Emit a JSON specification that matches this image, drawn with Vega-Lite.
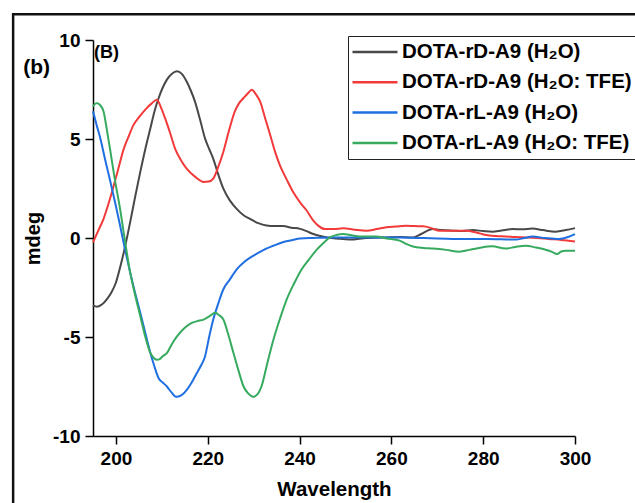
{
  "$schema": "https://vega.github.io/schema/vega-lite/v6.json",
  "width": 482,
  "height": 396,
  "autosize": {"type": "none"},
  "padding": {"left": 93, "top": 40, "right": 60, "bottom": 67},
  "background": "white",
  "config": {"view": {"stroke": null}, "font": "Liberation Sans"},
  "layer": [
    {
      "data": {"values": [
        {"series":"DOTA-rD-A9 (H₂O)","wavelength":195,"mdeg":-3.4},{"series":"DOTA-rD-A9 (H₂O)","wavelength":195.9,"mdeg":-3.47},{"series":"DOTA-rD-A9 (H₂O)","wavelength":197,"mdeg":-3.35},{"series":"DOTA-rD-A9 (H₂O)","wavelength":198,"mdeg":-3.1},{"series":"DOTA-rD-A9 (H₂O)","wavelength":199,"mdeg":-2.75},{"series":"DOTA-rD-A9 (H₂O)","wavelength":200,"mdeg":-2.25},{"series":"DOTA-rD-A9 (H₂O)","wavelength":201,"mdeg":-1.4},{"series":"DOTA-rD-A9 (H₂O)","wavelength":201.7,"mdeg":-0.73},{"series":"DOTA-rD-A9 (H₂O)","wavelength":203.1,"mdeg":0.8},{"series":"DOTA-rD-A9 (H₂O)","wavelength":204.2,"mdeg":2.1},{"series":"DOTA-rD-A9 (H₂O)","wavelength":205.3,"mdeg":3.34},{"series":"DOTA-rD-A9 (H₂O)","wavelength":206.4,"mdeg":4.5},{"series":"DOTA-rD-A9 (H₂O)","wavelength":207.5,"mdeg":5.54},{"series":"DOTA-rD-A9 (H₂O)","wavelength":208.4,"mdeg":6.4},{"series":"DOTA-rD-A9 (H₂O)","wavelength":209.3,"mdeg":7.07},{"series":"DOTA-rD-A9 (H₂O)","wavelength":210.2,"mdeg":7.6},{"series":"DOTA-rD-A9 (H₂O)","wavelength":211.1,"mdeg":8.0},{"series":"DOTA-rD-A9 (H₂O)","wavelength":212.2,"mdeg":8.3},{"series":"DOTA-rD-A9 (H₂O)","wavelength":213.3,"mdeg":8.42},{"series":"DOTA-rD-A9 (H₂O)","wavelength":214.3,"mdeg":8.3},{"series":"DOTA-rD-A9 (H₂O)","wavelength":215.4,"mdeg":7.9},{"series":"DOTA-rD-A9 (H₂O)","wavelength":216.3,"mdeg":7.45},{"series":"DOTA-rD-A9 (H₂O)","wavelength":217.2,"mdeg":6.9},{"series":"DOTA-rD-A9 (H₂O)","wavelength":218.3,"mdeg":6.0},{"series":"DOTA-rD-A9 (H₂O)","wavelength":219.4,"mdeg":5.03},{"series":"DOTA-rD-A9 (H₂O)","wavelength":220.3,"mdeg":4.5},{"series":"DOTA-rD-A9 (H₂O)","wavelength":221.2,"mdeg":4.0},{"series":"DOTA-rD-A9 (H₂O)","wavelength":222.3,"mdeg":3.2},{"series":"DOTA-rD-A9 (H₂O)","wavelength":223.4,"mdeg":2.49},{"series":"DOTA-rD-A9 (H₂O)","wavelength":224.8,"mdeg":1.9},{"series":"DOTA-rD-A9 (H₂O)","wavelength":226.3,"mdeg":1.47},{"series":"DOTA-rD-A9 (H₂O)","wavelength":227.8,"mdeg":1.15},{"series":"DOTA-rD-A9 (H₂O)","wavelength":229.2,"mdeg":0.97},{"series":"DOTA-rD-A9 (H₂O)","wavelength":231,"mdeg":0.75},{"series":"DOTA-rD-A9 (H₂O)","wavelength":232.8,"mdeg":0.63},{"series":"DOTA-rD-A9 (H₂O)","wavelength":234.6,"mdeg":0.6},{"series":"DOTA-rD-A9 (H₂O)","wavelength":236.4,"mdeg":0.6},{"series":"DOTA-rD-A9 (H₂O)","wavelength":238.2,"mdeg":0.52},{"series":"DOTA-rD-A9 (H₂O)","wavelength":240.1,"mdeg":0.46},{"series":"DOTA-rD-A9 (H₂O)","wavelength":241.5,"mdeg":0.35},{"series":"DOTA-rD-A9 (H₂O)","wavelength":243,"mdeg":0.2},{"series":"DOTA-rD-A9 (H₂O)","wavelength":244.5,"mdeg":0.1},{"series":"DOTA-rD-A9 (H₂O)","wavelength":246,"mdeg":0.03},{"series":"DOTA-rD-A9 (H₂O)","wavelength":248,"mdeg":-0.02},{"series":"DOTA-rD-A9 (H₂O)","wavelength":250.9,"mdeg":-0.08},{"series":"DOTA-rD-A9 (H₂O)","wavelength":254.6,"mdeg":0},{"series":"DOTA-rD-A9 (H₂O)","wavelength":258.9,"mdeg":0.03},{"series":"DOTA-rD-A9 (H₂O)","wavelength":262,"mdeg":0.05},{"series":"DOTA-rD-A9 (H₂O)","wavelength":264.7,"mdeg":0.03},{"series":"DOTA-rD-A9 (H₂O)","wavelength":266.5,"mdeg":0.2},{"series":"DOTA-rD-A9 (H₂O)","wavelength":269,"mdeg":0.45},{"series":"DOTA-rD-A9 (H₂O)","wavelength":271,"mdeg":0.4},{"series":"DOTA-rD-A9 (H₂O)","wavelength":273.4,"mdeg":0.37},{"series":"DOTA-rD-A9 (H₂O)","wavelength":275.5,"mdeg":0.35},{"series":"DOTA-rD-A9 (H₂O)","wavelength":277.7,"mdeg":0.4},{"series":"DOTA-rD-A9 (H₂O)","wavelength":280,"mdeg":0.35},{"series":"DOTA-rD-A9 (H₂O)","wavelength":282,"mdeg":0.32},{"series":"DOTA-rD-A9 (H₂O)","wavelength":284,"mdeg":0.38},{"series":"DOTA-rD-A9 (H₂O)","wavelength":286.4,"mdeg":0.45},{"series":"DOTA-rD-A9 (H₂O)","wavelength":288.5,"mdeg":0.44},{"series":"DOTA-rD-A9 (H₂O)","wavelength":290.7,"mdeg":0.48},{"series":"DOTA-rD-A9 (H₂O)","wavelength":293,"mdeg":0.4},{"series":"DOTA-rD-A9 (H₂O)","wavelength":295.8,"mdeg":0.32},{"series":"DOTA-rD-A9 (H₂O)","wavelength":298,"mdeg":0.4},{"series":"DOTA-rD-A9 (H₂O)","wavelength":300,"mdeg":0.5},

        {"series":"DOTA-rD-A9 (H₂O: TFE)","wavelength":195,"mdeg":-0.22},{"series":"DOTA-rD-A9 (H₂O: TFE)","wavelength":196.2,"mdeg":0.4},{"series":"DOTA-rD-A9 (H₂O: TFE)","wavelength":197.3,"mdeg":0.97},{"series":"DOTA-rD-A9 (H₂O: TFE)","wavelength":198.2,"mdeg":1.6},{"series":"DOTA-rD-A9 (H₂O: TFE)","wavelength":199.1,"mdeg":2.3},{"series":"DOTA-rD-A9 (H₂O: TFE)","wavelength":200.4,"mdeg":3.4},{"series":"DOTA-rD-A9 (H₂O: TFE)","wavelength":201.7,"mdeg":4.5},{"series":"DOTA-rD-A9 (H₂O: TFE)","wavelength":202.8,"mdeg":5.15},{"series":"DOTA-rD-A9 (H₂O: TFE)","wavelength":203.8,"mdeg":5.7},{"series":"DOTA-rD-A9 (H₂O: TFE)","wavelength":205.2,"mdeg":6.15},{"series":"DOTA-rD-A9 (H₂O: TFE)","wavelength":206.7,"mdeg":6.56},{"series":"DOTA-rD-A9 (H₂O: TFE)","wavelength":207.8,"mdeg":6.8},{"series":"DOTA-rD-A9 (H₂O: TFE)","wavelength":208.9,"mdeg":6.98},{"series":"DOTA-rD-A9 (H₂O: TFE)","wavelength":209.8,"mdeg":6.6},{"series":"DOTA-rD-A9 (H₂O: TFE)","wavelength":210.7,"mdeg":6.05},{"series":"DOTA-rD-A9 (H₂O: TFE)","wavelength":211.8,"mdeg":5.3},{"series":"DOTA-rD-A9 (H₂O: TFE)","wavelength":212.9,"mdeg":4.5},{"series":"DOTA-rD-A9 (H₂O: TFE)","wavelength":214.1,"mdeg":3.95},{"series":"DOTA-rD-A9 (H₂O: TFE)","wavelength":215.4,"mdeg":3.5},{"series":"DOTA-rD-A9 (H₂O: TFE)","wavelength":217.2,"mdeg":3.1},{"series":"DOTA-rD-A9 (H₂O: TFE)","wavelength":219.1,"mdeg":2.83},{"series":"DOTA-rD-A9 (H₂O: TFE)","wavelength":220.2,"mdeg":2.85},{"series":"DOTA-rD-A9 (H₂O: TFE)","wavelength":221.2,"mdeg":3.0},{"series":"DOTA-rD-A9 (H₂O: TFE)","wavelength":222.3,"mdeg":3.6},{"series":"DOTA-rD-A9 (H₂O: TFE)","wavelength":223.4,"mdeg":4.36},{"series":"DOTA-rD-A9 (H₂O: TFE)","wavelength":224.6,"mdeg":5.4},{"series":"DOTA-rD-A9 (H₂O: TFE)","wavelength":225.9,"mdeg":6.39},{"series":"DOTA-rD-A9 (H₂O: TFE)","wavelength":226.8,"mdeg":6.8},{"series":"DOTA-rD-A9 (H₂O: TFE)","wavelength":227.8,"mdeg":7.07},{"series":"DOTA-rD-A9 (H₂O: TFE)","wavelength":228.7,"mdeg":7.3},{"series":"DOTA-rD-A9 (H₂O: TFE)","wavelength":229.6,"mdeg":7.49},{"series":"DOTA-rD-A9 (H₂O: TFE)","wavelength":230.5,"mdeg":7.25},{"series":"DOTA-rD-A9 (H₂O: TFE)","wavelength":231.4,"mdeg":6.9},{"series":"DOTA-rD-A9 (H₂O: TFE)","wavelength":232.5,"mdeg":6.05},{"series":"DOTA-rD-A9 (H₂O: TFE)","wavelength":233.6,"mdeg":5.2},{"series":"DOTA-rD-A9 (H₂O: TFE)","wavelength":234.6,"mdeg":4.4},{"series":"DOTA-rD-A9 (H₂O: TFE)","wavelength":235.7,"mdeg":3.68},{"series":"DOTA-rD-A9 (H₂O: TFE)","wavelength":237.2,"mdeg":2.95},{"series":"DOTA-rD-A9 (H₂O: TFE)","wavelength":238.6,"mdeg":2.32},{"series":"DOTA-rD-A9 (H₂O: TFE)","wavelength":240.1,"mdeg":1.8},{"series":"DOTA-rD-A9 (H₂O: TFE)","wavelength":241.5,"mdeg":1.4},{"series":"DOTA-rD-A9 (H₂O: TFE)","wavelength":243,"mdeg":0.88},{"series":"DOTA-rD-A9 (H₂O: TFE)","wavelength":244.2,"mdeg":0.6},{"series":"DOTA-rD-A9 (H₂O: TFE)","wavelength":245.5,"mdeg":0.45},{"series":"DOTA-rD-A9 (H₂O: TFE)","wavelength":247.5,"mdeg":0.45},{"series":"DOTA-rD-A9 (H₂O: TFE)","wavelength":249.5,"mdeg":0.49},{"series":"DOTA-rD-A9 (H₂O: TFE)","wavelength":252,"mdeg":0.42},{"series":"DOTA-rD-A9 (H₂O: TFE)","wavelength":254.6,"mdeg":0.37},{"series":"DOTA-rD-A9 (H₂O: TFE)","wavelength":256.8,"mdeg":0.45},{"series":"DOTA-rD-A9 (H₂O: TFE)","wavelength":258.9,"mdeg":0.54},{"series":"DOTA-rD-A9 (H₂O: TFE)","wavelength":261,"mdeg":0.58},{"series":"DOTA-rD-A9 (H₂O: TFE)","wavelength":263.2,"mdeg":0.62},{"series":"DOTA-rD-A9 (H₂O: TFE)","wavelength":265,"mdeg":0.6},{"series":"DOTA-rD-A9 (H₂O: TFE)","wavelength":266.9,"mdeg":0.59},{"series":"DOTA-rD-A9 (H₂O: TFE)","wavelength":268.7,"mdeg":0.5},{"series":"DOTA-rD-A9 (H₂O: TFE)","wavelength":270.5,"mdeg":0.37},{"series":"DOTA-rD-A9 (H₂O: TFE)","wavelength":273.4,"mdeg":0.37},{"series":"DOTA-rD-A9 (H₂O: TFE)","wavelength":276.3,"mdeg":0.37},{"series":"DOTA-rD-A9 (H₂O: TFE)","wavelength":278.5,"mdeg":0.28},{"series":"DOTA-rD-A9 (H₂O: TFE)","wavelength":280.6,"mdeg":0.15},{"series":"DOTA-rD-A9 (H₂O: TFE)","wavelength":282.8,"mdeg":0.1},{"series":"DOTA-rD-A9 (H₂O: TFE)","wavelength":284.9,"mdeg":0.08},{"series":"DOTA-rD-A9 (H₂O: TFE)","wavelength":287,"mdeg":0.05},{"series":"DOTA-rD-A9 (H₂O: TFE)","wavelength":289.3,"mdeg":0.03},{"series":"DOTA-rD-A9 (H₂O: TFE)","wavelength":291.8,"mdeg":0.0},{"series":"DOTA-rD-A9 (H₂O: TFE)","wavelength":294.3,"mdeg":-0.05},{"series":"DOTA-rD-A9 (H₂O: TFE)","wavelength":297,"mdeg":-0.1},{"series":"DOTA-rD-A9 (H₂O: TFE)","wavelength":300,"mdeg":-0.18},

        {"series":"DOTA-rL-A9 (H₂O)","wavelength":195,"mdeg":6.4},{"series":"DOTA-rL-A9 (H₂O)","wavelength":195.8,"mdeg":5.7},{"series":"DOTA-rL-A9 (H₂O)","wavelength":196.6,"mdeg":5.03},{"series":"DOTA-rL-A9 (H₂O)","wavelength":197.7,"mdeg":3.9},{"series":"DOTA-rL-A9 (H₂O)","wavelength":198.8,"mdeg":2.83},{"series":"DOTA-rL-A9 (H₂O)","wavelength":199.9,"mdeg":1.7},{"series":"DOTA-rL-A9 (H₂O)","wavelength":200.9,"mdeg":0.63},{"series":"DOTA-rL-A9 (H₂O)","wavelength":202,"mdeg":-0.6},{"series":"DOTA-rL-A9 (H₂O)","wavelength":203.1,"mdeg":-1.75},{"series":"DOTA-rL-A9 (H₂O)","wavelength":204.2,"mdeg":-2.8},{"series":"DOTA-rL-A9 (H₂O)","wavelength":205.3,"mdeg":-3.78},{"series":"DOTA-rL-A9 (H₂O)","wavelength":206.4,"mdeg":-4.8},{"series":"DOTA-rL-A9 (H₂O)","wavelength":207.5,"mdeg":-5.81},{"series":"DOTA-rL-A9 (H₂O)","wavelength":208.4,"mdeg":-6.5},{"series":"DOTA-rL-A9 (H₂O)","wavelength":209.3,"mdeg":-7.08},{"series":"DOTA-rL-A9 (H₂O)","wavelength":210.2,"mdeg":-7.3},{"series":"DOTA-rL-A9 (H₂O)","wavelength":211.1,"mdeg":-7.5},{"series":"DOTA-rL-A9 (H₂O)","wavelength":212.1,"mdeg":-7.8},{"series":"DOTA-rL-A9 (H₂O)","wavelength":213.1,"mdeg":-8.02},{"series":"DOTA-rL-A9 (H₂O)","wavelength":214.2,"mdeg":-7.95},{"series":"DOTA-rL-A9 (H₂O)","wavelength":215.4,"mdeg":-7.68},{"series":"DOTA-rL-A9 (H₂O)","wavelength":216.5,"mdeg":-7.3},{"series":"DOTA-rL-A9 (H₂O)","wavelength":217.6,"mdeg":-6.83},{"series":"DOTA-rL-A9 (H₂O)","wavelength":218.5,"mdeg":-6.45},{"series":"DOTA-rL-A9 (H₂O)","wavelength":219.4,"mdeg":-5.98},{"series":"DOTA-rL-A9 (H₂O)","wavelength":220.3,"mdeg":-5.0},{"series":"DOTA-rL-A9 (H₂O)","wavelength":221.2,"mdeg":-4.12},{"series":"DOTA-rL-A9 (H₂O)","wavelength":222.3,"mdeg":-3.3},{"series":"DOTA-rL-A9 (H₂O)","wavelength":223.4,"mdeg":-2.59},{"series":"DOTA-rL-A9 (H₂O)","wavelength":224.8,"mdeg":-2.1},{"series":"DOTA-rL-A9 (H₂O)","wavelength":226.3,"mdeg":-1.58},{"series":"DOTA-rL-A9 (H₂O)","wavelength":228,"mdeg":-1.2},{"series":"DOTA-rL-A9 (H₂O)","wavelength":229.9,"mdeg":-0.9},{"series":"DOTA-rL-A9 (H₂O)","wavelength":232,"mdeg":-0.62},{"series":"DOTA-rL-A9 (H₂O)","wavelength":234.3,"mdeg":-0.39},{"series":"DOTA-rL-A9 (H₂O)","wavelength":236.5,"mdeg":-0.2},{"series":"DOTA-rL-A9 (H₂O)","wavelength":238.5,"mdeg":-0.1},{"series":"DOTA-rL-A9 (H₂O)","wavelength":240.1,"mdeg":-0.03},{"series":"DOTA-rL-A9 (H₂O)","wavelength":243,"mdeg":0.0},{"series":"DOTA-rL-A9 (H₂O)","wavelength":247.3,"mdeg":0.03},{"series":"DOTA-rL-A9 (H₂O)","wavelength":252,"mdeg":0.03},{"series":"DOTA-rL-A9 (H₂O)","wavelength":256,"mdeg":0.03},{"series":"DOTA-rL-A9 (H₂O)","wavelength":261.8,"mdeg":0.03},{"series":"DOTA-rL-A9 (H₂O)","wavelength":266,"mdeg":0.0},{"series":"DOTA-rL-A9 (H₂O)","wavelength":270,"mdeg":-0.02},{"series":"DOTA-rL-A9 (H₂O)","wavelength":276.3,"mdeg":-0.05},{"series":"DOTA-rL-A9 (H₂O)","wavelength":281,"mdeg":-0.05},{"series":"DOTA-rL-A9 (H₂O)","wavelength":287.1,"mdeg":-0.08},{"series":"DOTA-rL-A9 (H₂O)","wavelength":289,"mdeg":0.0},{"series":"DOTA-rL-A9 (H₂O)","wavelength":290.7,"mdeg":0.07},{"series":"DOTA-rL-A9 (H₂O)","wavelength":293.5,"mdeg":0.0},{"series":"DOTA-rL-A9 (H₂O)","wavelength":296.5,"mdeg":-0.05},{"series":"DOTA-rL-A9 (H₂O)","wavelength":298.5,"mdeg":0.05},{"series":"DOTA-rL-A9 (H₂O)","wavelength":300,"mdeg":0.2},

        {"series":"DOTA-rL-A9 (H₂O: TFE)","wavelength":195,"mdeg":6.64},{"series":"DOTA-rL-A9 (H₂O: TFE)","wavelength":195.6,"mdeg":6.8},{"series":"DOTA-rL-A9 (H₂O: TFE)","wavelength":196,"mdeg":6.81},{"series":"DOTA-rL-A9 (H₂O: TFE)","wavelength":196.6,"mdeg":6.7},{"series":"DOTA-rL-A9 (H₂O: TFE)","wavelength":197.3,"mdeg":6.39},{"series":"DOTA-rL-A9 (H₂O: TFE)","wavelength":198,"mdeg":5.5},{"series":"DOTA-rL-A9 (H₂O: TFE)","wavelength":198.8,"mdeg":4.36},{"series":"DOTA-rL-A9 (H₂O: TFE)","wavelength":199.8,"mdeg":2.9},{"series":"DOTA-rL-A9 (H₂O: TFE)","wavelength":200.9,"mdeg":1.47},{"series":"DOTA-rL-A9 (H₂O: TFE)","wavelength":202,"mdeg":-0.2},{"series":"DOTA-rL-A9 (H₂O: TFE)","wavelength":203.1,"mdeg":-1.75},{"series":"DOTA-rL-A9 (H₂O: TFE)","wavelength":204.2,"mdeg":-2.9},{"series":"DOTA-rL-A9 (H₂O: TFE)","wavelength":205.3,"mdeg":-3.95},{"series":"DOTA-rL-A9 (H₂O: TFE)","wavelength":206.4,"mdeg":-5.0},{"series":"DOTA-rL-A9 (H₂O: TFE)","wavelength":207.5,"mdeg":-5.81},{"series":"DOTA-rL-A9 (H₂O: TFE)","wavelength":208.2,"mdeg":-6.05},{"series":"DOTA-rL-A9 (H₂O: TFE)","wavelength":208.9,"mdeg":-6.15},{"series":"DOTA-rL-A9 (H₂O: TFE)","wavelength":209.6,"mdeg":-6.1},{"series":"DOTA-rL-A9 (H₂O: TFE)","wavelength":210.3,"mdeg":-5.95},{"series":"DOTA-rL-A9 (H₂O: TFE)","wavelength":211.1,"mdeg":-5.81},{"series":"DOTA-rL-A9 (H₂O: TFE)","wavelength":212.2,"mdeg":-5.35},{"series":"DOTA-rL-A9 (H₂O: TFE)","wavelength":213.3,"mdeg":-4.97},{"series":"DOTA-rL-A9 (H₂O: TFE)","wavelength":214.7,"mdeg":-4.6},{"series":"DOTA-rL-A9 (H₂O: TFE)","wavelength":216.2,"mdeg":-4.32},{"series":"DOTA-rL-A9 (H₂O: TFE)","wavelength":217.7,"mdeg":-4.2},{"series":"DOTA-rL-A9 (H₂O: TFE)","wavelength":219.1,"mdeg":-4.12},{"series":"DOTA-rL-A9 (H₂O: TFE)","wavelength":220.4,"mdeg":-3.95},{"series":"DOTA-rL-A9 (H₂O: TFE)","wavelength":221.6,"mdeg":-3.78},{"series":"DOTA-rL-A9 (H₂O: TFE)","wavelength":222.5,"mdeg":-3.9},{"series":"DOTA-rL-A9 (H₂O: TFE)","wavelength":223.4,"mdeg":-4.12},{"series":"DOTA-rL-A9 (H₂O: TFE)","wavelength":224.5,"mdeg":-4.9},{"series":"DOTA-rL-A9 (H₂O: TFE)","wavelength":225.6,"mdeg":-5.81},{"series":"DOTA-rL-A9 (H₂O: TFE)","wavelength":226.7,"mdeg":-6.7},{"series":"DOTA-rL-A9 (H₂O: TFE)","wavelength":227.8,"mdeg":-7.5},{"series":"DOTA-rL-A9 (H₂O: TFE)","wavelength":228.8,"mdeg":-7.85},{"series":"DOTA-rL-A9 (H₂O: TFE)","wavelength":229.9,"mdeg":-8.02},{"series":"DOTA-rL-A9 (H₂O: TFE)","wavelength":230.8,"mdeg":-7.9},{"series":"DOTA-rL-A9 (H₂O: TFE)","wavelength":231.7,"mdeg":-7.5},{"series":"DOTA-rL-A9 (H₂O: TFE)","wavelength":233,"mdeg":-6.3},{"series":"DOTA-rL-A9 (H₂O: TFE)","wavelength":234.3,"mdeg":-5.14},{"series":"DOTA-rL-A9 (H₂O: TFE)","wavelength":235.7,"mdeg":-4.1},{"series":"DOTA-rL-A9 (H₂O: TFE)","wavelength":237.2,"mdeg":-3.1},{"series":"DOTA-rL-A9 (H₂O: TFE)","wavelength":238.8,"mdeg":-2.3},{"series":"DOTA-rL-A9 (H₂O: TFE)","wavelength":240.4,"mdeg":-1.6},{"series":"DOTA-rL-A9 (H₂O: TFE)","wavelength":242,"mdeg":-1.1},{"series":"DOTA-rL-A9 (H₂O: TFE)","wavelength":243.7,"mdeg":-0.6},{"series":"DOTA-rL-A9 (H₂O: TFE)","wavelength":245.2,"mdeg":-0.25},{"series":"DOTA-rL-A9 (H₂O: TFE)","wavelength":246.6,"mdeg":0.03},{"series":"DOTA-rL-A9 (H₂O: TFE)","wavelength":248,"mdeg":0.15},{"series":"DOTA-rL-A9 (H₂O: TFE)","wavelength":249.5,"mdeg":0.2},{"series":"DOTA-rL-A9 (H₂O: TFE)","wavelength":251.3,"mdeg":0.14},{"series":"DOTA-rL-A9 (H₂O: TFE)","wavelength":253.1,"mdeg":0.08},{"series":"DOTA-rL-A9 (H₂O: TFE)","wavelength":255,"mdeg":0.07},{"series":"DOTA-rL-A9 (H₂O: TFE)","wavelength":256.7,"mdeg":0.07},{"series":"DOTA-rL-A9 (H₂O: TFE)","wavelength":259,"mdeg":-0.02},{"series":"DOTA-rL-A9 (H₂O: TFE)","wavelength":261.8,"mdeg":-0.13},{"series":"DOTA-rL-A9 (H₂O: TFE)","wavelength":263.2,"mdeg":-0.3},{"series":"DOTA-rL-A9 (H₂O: TFE)","wavelength":264.7,"mdeg":-0.43},{"series":"DOTA-rL-A9 (H₂O: TFE)","wavelength":267,"mdeg":-0.5},{"series":"DOTA-rL-A9 (H₂O: TFE)","wavelength":269,"mdeg":-0.53},{"series":"DOTA-rL-A9 (H₂O: TFE)","wavelength":272,"mdeg":-0.6},{"series":"DOTA-rL-A9 (H₂O: TFE)","wavelength":274.8,"mdeg":-0.69},{"series":"DOTA-rL-A9 (H₂O: TFE)","wavelength":277,"mdeg":-0.6},{"series":"DOTA-rL-A9 (H₂O: TFE)","wavelength":279.1,"mdeg":-0.5},{"series":"DOTA-rL-A9 (H₂O: TFE)","wavelength":282,"mdeg":-0.42},{"series":"DOTA-rL-A9 (H₂O: TFE)","wavelength":284.9,"mdeg":-0.53},{"series":"DOTA-rL-A9 (H₂O: TFE)","wavelength":287,"mdeg":-0.45},{"series":"DOTA-rL-A9 (H₂O: TFE)","wavelength":289.3,"mdeg":-0.39},{"series":"DOTA-rL-A9 (H₂O: TFE)","wavelength":291.5,"mdeg":-0.48},{"series":"DOTA-rL-A9 (H₂O: TFE)","wavelength":293.6,"mdeg":-0.59},{"series":"DOTA-rL-A9 (H₂O: TFE)","wavelength":295,"mdeg":-0.7},{"series":"DOTA-rL-A9 (H₂O: TFE)","wavelength":296.1,"mdeg":-0.81},{"series":"DOTA-rL-A9 (H₂O: TFE)","wavelength":297,"mdeg":-0.68},{"series":"DOTA-rL-A9 (H₂O: TFE)","wavelength":298,"mdeg":-0.64},{"series":"DOTA-rL-A9 (H₂O: TFE)","wavelength":300,"mdeg":-0.64}
      ]},
      "mark": {"type": "line", "strokeWidth": 2, "interpolate": "monotone"},
      "encoding": {
        "x": {"field": "wavelength", "type": "quantitative",
          "scale": {"domain": [195, 300], "nice": false, "zero": false},
          "axis": {"title": "Wavelength", "values": [200, 220, 240, 260, 280, 300], "grid": false,
            "labelExpr": "'' + datum.value",
            "domainColor": "#000", "domainWidth": 1.5, "tickColor": "#000", "tickWidth": 1.5, "tickSize": 8,
            "labelFont": "Liberation Sans", "labelFontSize": 19, "labelFontWeight": "bold", "labelColor": "#000",
            "labelPadding": 5, "labelFlush": false,
            "titleFont": "Liberation Sans", "titleFontSize": 20.5, "titleFontWeight": "bold", "titleColor": "#000", "titlePadding": 11}},
        "y": {"field": "mdeg", "type": "quantitative",
          "scale": {"domain": [-10, 10], "nice": false, "zero": false},
          "axis": {"title": "mdeg", "values": [-10, -5, 0, 5, 10], "grid": false,
            "labelExpr": "'' + datum.value",
            "domainColor": "#000", "domainWidth": 1.5, "tickColor": "#000", "tickWidth": 1.5, "tickSize": 8,
            "labelFont": "Liberation Sans", "labelFontSize": 19, "labelFontWeight": "bold", "labelColor": "#000",
            "labelPadding": 5, "labelFlush": false,
            "titleFont": "Liberation Sans", "titleFontSize": 20, "titleFontWeight": "bold", "titleColor": "#000", "titlePadding": 9}},
        "color": {"field": "series", "type": "nominal",
          "scale": {"domain": ["DOTA-rD-A9 (H₂O)", "DOTA-rD-A9 (H₂O: TFE)", "DOTA-rL-A9 (H₂O)", "DOTA-rL-A9 (H₂O: TFE)"],
                    "range": ["#484848", "#f23a3a", "#1f6fe0", "#36aa5e"]},
          "legend": {"orient": "none", "legendX": 255, "legendY": -4, "title": null,
            "strokeColor": "#222", "fillColor": "#fff", "padding": 3,
            "symbolType": "stroke", "symbolSize": 2025, "symbolStrokeWidth": 2.5,
            "clipHeight": 26, "rowPadding": 4.3,
            "labelFont": "Liberation Sans", "labelFontSize": 20.5, "labelFontWeight": "bold", "labelColor": "#000",
            "labelOffset": 3, "labelLimit": 400}}
      }
    },
    {
      "data": {"values": [{}]},
      "mark": {"type": "rect", "fill": null, "stroke": "#111", "strokeWidth": 2.5, "clip": false},
      "encoding": {
        "x": {"datum": 177.6, "type": "quantitative", "scale": {"domain": [195, 300], "nice": false, "zero": false}},
        "x2": {"datum": 400},
        "y": {"datum": 11.3, "type": "quantitative", "scale": {"domain": [-10, 10], "nice": false, "zero": false}},
        "y2": {"datum": -20}
      }
    },
    {
      "data": {"values": [{}]},
      "mark": {"type": "text", "text": "(B)", "align": "left", "baseline": "middle", "font": "Liberation Sans", "fontWeight": "bold", "fontSize": 18, "color": "#000"},
      "encoding": {
        "x": {"datum": 195.2, "type": "quantitative", "scale": {"domain": [195, 300], "nice": false, "zero": false}},
        "y": {"datum": 9.34, "type": "quantitative", "scale": {"domain": [-10, 10], "nice": false, "zero": false}}
      }
    },
    {
      "data": {"values": [{}]},
      "mark": {"type": "text", "text": "(b)", "align": "left", "baseline": "middle", "font": "Liberation Sans", "fontWeight": "bold", "fontSize": 21, "color": "#000"},
      "encoding": {
        "x": {"datum": 179.8, "type": "quantitative", "scale": {"domain": [195, 300], "nice": false, "zero": false}},
        "y": {"datum": 8.6, "type": "quantitative", "scale": {"domain": [-10, 10], "nice": false, "zero": false}}
      }
    }
  ]
}
